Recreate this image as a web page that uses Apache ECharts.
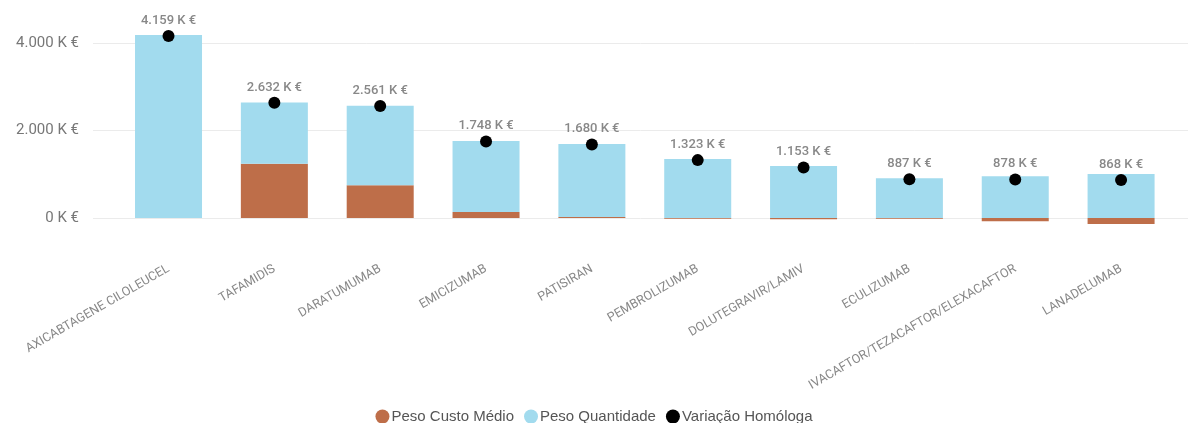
<!DOCTYPE html>
<html>
<head>
<meta charset="utf-8">
<script src="https://cdn.jsdelivr.net/npm/echarts@6/dist/echarts.min.js"></script>
<style>html,body{margin:0;padding:0;background:#fff;}#c{width:1188px;height:423px;}</style>
</head>
<body>
<div id="c"></div>
<script>
const categories = ['AXICABTAGENE CILOLEUCEL','TAFAMIDIS','DARATUMUMAB','EMICIZUMAB','PATISIRAN','PEMBROLIZUMAB','DOLUTEGRAVIR/LAMIV','ECULIZUMAB','IVACAFTOR/TEZACAFTOR/ELEXACAFTOR','LANADELUMAB'];
const pesoCustoMedio = [0, 1240, 747, 140, 25, -15, -30, -15, -77, -137];
const pesoQuantidade = [4185, 1400, 1820, 1620, 1666, 1349, 1189, 907, 955, 1006];
const variacaoHomologa = [4159, 2632, 2561, 1748, 1680, 1323, 1153, 887, 878, 868];
const yTicks = [0, 2000, 4000];

function fmtK(v){
  const s = Math.round(v).toString().replace(/\B(?=(\d{3})+(?!\d))/g, '.');
  return s + ' K €';
}

const chart = echarts.init(document.getElementById('c'));
const TOP = 25.5, BOTTOM = 205;
chart.setOption({
  animation: false,
  backgroundColor: '#fff',
  grid: [
    {left: 93, right: 0, top: TOP, bottom: BOTTOM},
    {left: 115.6, right: 14, top: TOP, bottom: BOTTOM}
  ],
  legend: {
    bottom: -6,
    left: 'center',
    icon: 'circle',
    itemWidth: 14,
    itemHeight: 14,
    itemGap: 10,
    textStyle: {fontFamily: 'Liberation Sans', fontSize: 15, color: '#555', padding: [0,0,0,-3]},
    data: ['Peso Custo Médio','Peso Quantidade','Variação Homóloga']
  },
  xAxis: [
    {gridIndex: 0, type: 'value', min: 0, max: 1, show: false},
    {gridIndex: 1, type: 'category', data: categories,
     axisLine: {show: false}, axisTick: {show: false},
     axisLabel: {rotate: 30, margin: 50, fontFamily: 'Roboto', fontSize: 12.5, color: '#888', interval: 0}}
  ],
  yAxis: [
    {gridIndex: 0, type: 'value', min: 0, max: 4400, interval: 2000,
     axisLine: {show: false}, axisTick: {show: false},
     axisLabel: {showMaxLabel: false, margin: 14, fontFamily: 'Roboto', fontSize: 15, color: '#777',
       formatter: v => yTicks.indexOf(v) >= 0 ? fmtK(v) : ''},
     splitLine: {showMaxLine: false, lineStyle: {color: '#ebebeb', width: 1}}},
    {gridIndex: 1, type: 'value', min: 0, max: 4400, interval: 2000, show: false, splitLine: {show: false}}
  ],
  series: [
    {name: 'Peso Custo Médio', type: 'bar', xAxisIndex: 1, yAxisIndex: 1, stack: 'total', data: pesoCustoMedio,
     barWidth: 67, clip: false, itemStyle: {color: '#BE6E49'}},
    {name: 'Peso Quantidade', type: 'bar', xAxisIndex: 1, yAxisIndex: 1, stack: 'total', data: pesoQuantidade,
     barWidth: 67, clip: false, itemStyle: {color: '#A2DBEE'}},
    {name: 'Variação Homóloga', type: 'scatter', xAxisIndex: 1, yAxisIndex: 1, data: variacaoHomologa,
     symbol: 'circle', symbolSize: 12, clip: false, itemStyle: {color: '#000', opacity: 1},
     label: {show: true, position: 'top', distance: 3, fontFamily: 'Roboto', fontSize: 13, fontWeight: 500, color: '#888',
       formatter: p => fmtK(p.value)}}
  ]
});
</script>
</body>
</html>
